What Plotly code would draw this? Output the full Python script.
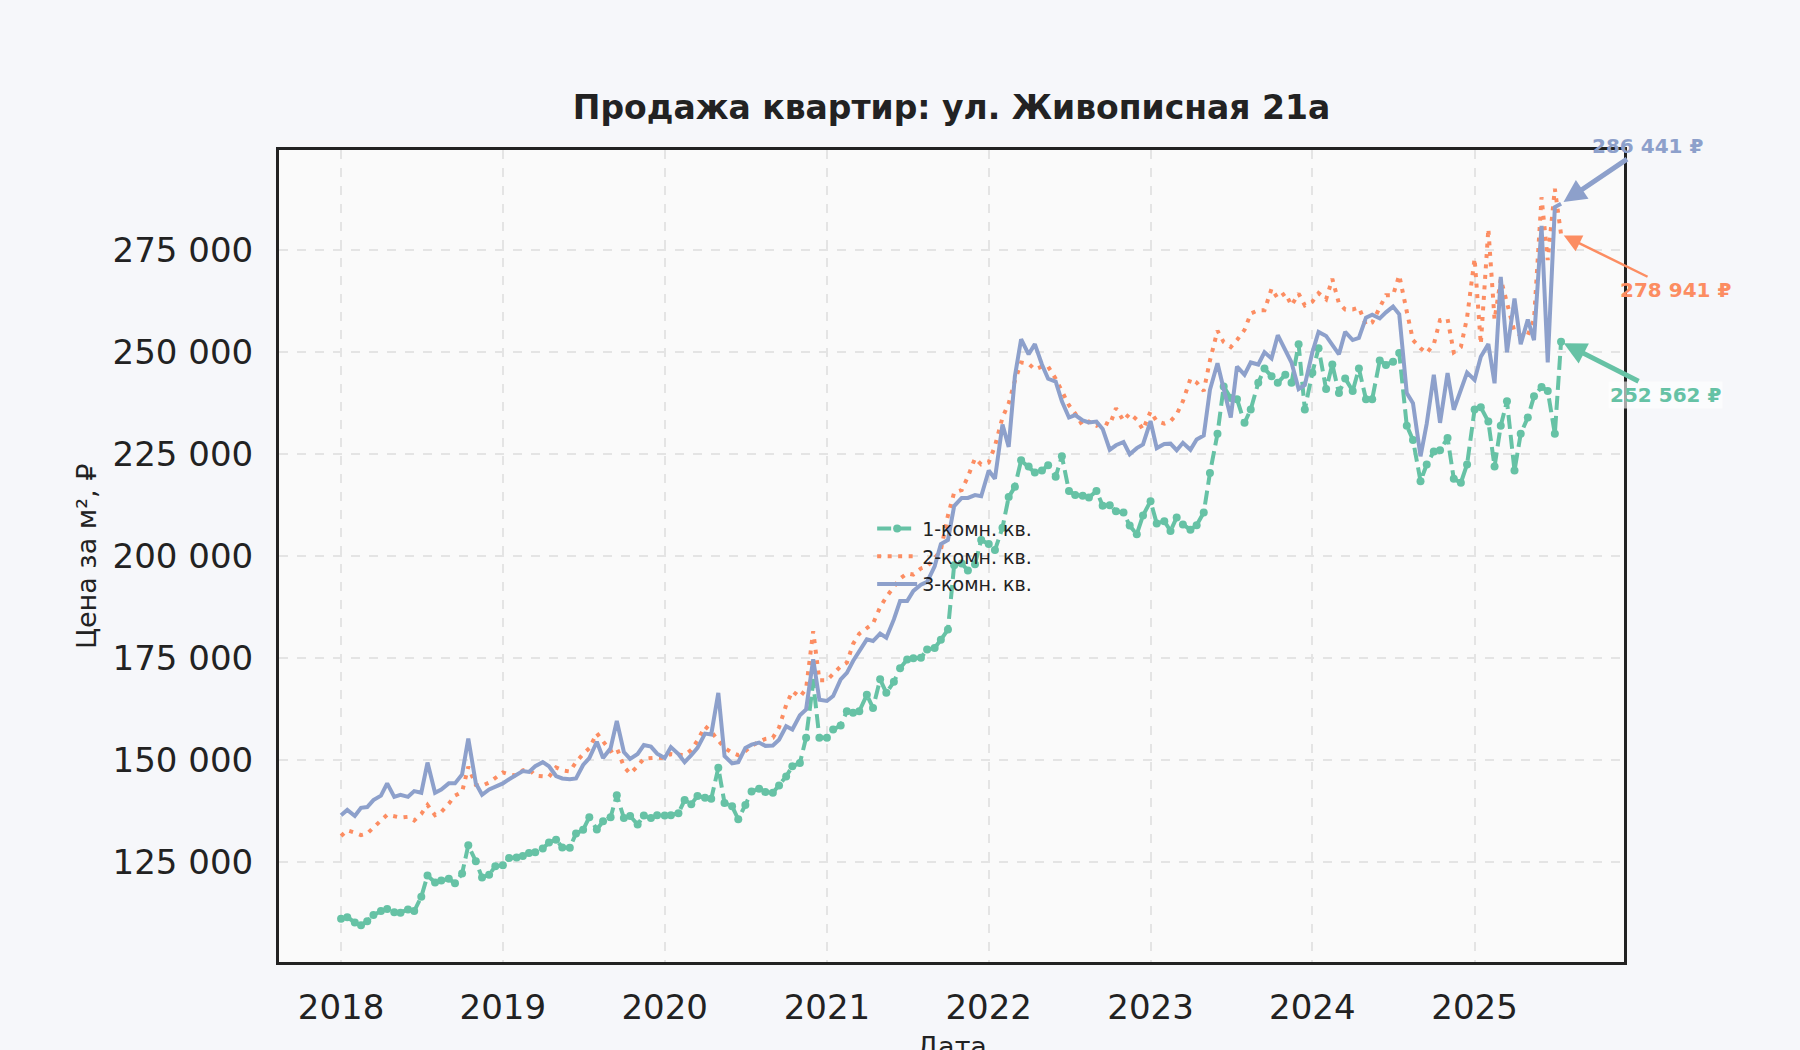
import numpy as np
import pandas as pd
import plotly.graph_objects as go

# полумесячные точки: 1-е и 15-е число
dates = pd.date_range("2018-01-01", "2025-07-15", freq="SMS")

# цена за м², тыс. руб
price_1k = [
    # 2018
    111.1, 111.5, 110.2, 109.5, 110.5, 112.0, 113.0, 113.5, 112.7, 112.6, 113.4, 113.0,
    116.5, 121.7, 120.0, 120.5, 120.9, 119.8, 122.2, 129.1, 125.2, 121.2, 121.9, 124.0,
    # 2019
    124.2, 126.0, 126.1, 126.5, 127.2, 127.4, 128.3, 129.8, 130.5, 128.6, 128.5, 132.0,
    132.9, 136.0, 133.0, 135.0, 136.0, 141.4, 135.8, 136.3, 134.2, 136.4, 135.8, 136.5,
    # 2020
    136.4, 136.5, 137.0, 140.2, 139.2, 141.2, 140.8, 140.5, 148.1, 139.5, 138.7, 135.5,
    139.0, 142.3, 143.0, 142.2, 142.0, 143.8, 146.0, 148.5, 149.3, 155.5, 169.0, 155.5,
    # 2021
    155.5, 157.5, 158.5, 162.0, 161.6, 162.0, 166.0, 162.8, 169.8, 166.5, 169.2, 172.5,
    174.7, 175.0, 175.1, 177.1, 177.5, 179.5, 182.0, 197.8, 198.2, 196.5, 198.0, 204.0,
    # 2022
    203.0, 201.5, 207.0, 214.5, 217.0, 223.5, 222.0, 220.5, 221.0, 222.3, 219.5, 224.5,
    216.0, 215.0, 214.8, 214.4, 216.0, 212.4, 212.5, 211.0, 210.7, 207.5, 205.4, 210.0,
    # 2023
    213.5, 208.0, 208.6, 206.2, 209.5, 207.8, 206.5, 207.6, 210.7, 220.4, 230.0, 241.6,
    238.8, 238.5, 232.7, 236.0, 242.5, 246.0, 244.1, 242.5, 244.5, 242.5, 252.0, 236.0,
    # 2024
    245.0, 251.0, 241.0, 247.0, 240.0, 243.6, 240.5, 246.0, 238.5, 238.5, 248.0, 246.9,
    247.7, 249.8, 232.0, 228.5, 218.4, 222.5, 225.7, 226.0, 229.0, 219.0, 218.0, 222.5,
    # 2025
    236.0, 236.5, 233.0, 222.0, 232.0, 238.0, 221.0, 230.0, 234.0, 239.2, 241.5, 240.5,
    230.0, 252.562,
]

price_2k = [
    # 2018
    131.4, 132.8, 132.2, 131.6, 132.0, 133.6, 135.2, 136.6, 136.1, 135.9, 136.1, 135.2,
    136.8, 139.0, 136.5, 137.3, 139.3, 141.3, 142.2, 148.4, 143.9, 143.7, 144.5, 145.5,
    # 2019
    147.0, 146.5, 146.2, 147.5, 147.8, 146.2, 146.1, 145.9, 148.2, 147.5, 147.2, 149.5,
    151.5, 152.9, 156.6, 154.5, 152.2, 153.0, 148.4, 146.7, 148.5, 150.4, 150.6, 150.6,
    # 2020
    150.5, 151.5, 151.3, 151.2, 152.5, 154.8, 158.3, 157.0, 154.8, 153.0, 151.8, 151.2,
    152.2, 153.5, 154.5, 155.2, 155.5, 158.0, 163.5, 166.9, 165.5, 167.5, 181.6, 169.6,
    # 2021
    169.6, 171.0, 173.0, 173.9, 178.5, 181.0, 182.5, 183.5, 187.5, 190.0, 192.5, 194.5,
    195.8, 195.5, 197.0, 197.5, 199.5, 201.5, 210.0, 215.6, 216.2, 219.5, 224.0, 222.5,
    # 2022
    223.0, 227.0, 234.0, 237.5, 243.0, 247.5, 247.2, 245.8, 246.5, 246.5, 243.5, 240.5,
    237.0, 235.0, 232.0, 233.0, 232.0, 233.0, 232.2, 236.3, 233.2, 235.0, 233.5, 231.0,
    # 2023
    235.5, 233.1, 232.5, 233.1, 234.8, 238.0, 243.5, 242.6, 240.5, 248.0, 255.3, 252.5,
    251.3, 253.0, 255.5, 259.5, 260.3, 260.3, 265.6, 263.2, 264.5, 261.5, 264.4, 261.5,
    # 2024
    262.4, 264.5, 263.0, 268.0, 262.0, 260.5, 260.5, 261.0, 256.7, 257.3, 261.0, 264.0,
    264.0, 268.9, 260.0, 253.0, 251.0, 249.8, 252.0, 257.9, 258.2, 250.0, 251.3, 258.5,
    # 2025
    273.0, 252.0, 280.3, 258.0, 268.0, 262.0, 255.0, 254.2, 254.2, 258.0, 288.0, 272.6,
    290.1, 278.941,
]

price_3k = [
    # 2018
    136.5, 137.8, 136.3, 138.3, 138.5, 140.2, 141.3, 144.3, 141.0, 141.5, 141.0, 142.4,
    142.0, 149.4, 142.0, 142.8, 144.3, 144.3, 146.5, 155.3, 144.3, 141.5, 142.8, 143.5,
    # 2019
    144.3, 145.3, 146.5, 147.3, 147.1, 148.5, 149.5, 148.5, 146.1, 145.5, 145.3, 145.5,
    148.8, 150.5, 154.5, 150.5, 152.9, 159.6, 152.0, 150.3, 151.5, 153.7, 153.3, 151.6,
    # 2020
    150.5, 153.2, 151.5, 149.5, 151.2, 153.0, 156.5, 156.3, 166.5, 151.0, 149.2, 149.5,
    153.0, 153.8, 154.3, 153.5, 153.6, 155.0, 158.3, 157.5, 161.0, 162.4, 174.7, 164.8,
    # 2021
    164.5, 165.7, 169.8, 171.4, 174.3, 176.5, 179.6, 179.2, 181.0, 180.0, 184.5, 189.0,
    189.0, 191.5, 193.0, 193.7, 197.5, 203.0, 204.0, 212.3, 214.3, 214.3, 215.0, 214.7,
    # 2022
    221.0, 219.0, 232.3, 226.8, 244.1, 253.2, 249.5, 252.0, 247.0, 243.5, 242.8, 238.0,
    234.0, 234.6, 233.3, 232.8, 233.0, 231.2, 226.1, 227.2, 228.0, 225.0, 226.5, 227.4,
    # 2023
    233.1, 226.5, 227.5, 227.6, 226.0, 227.8, 226.1, 228.6, 229.6, 240.8, 247.3, 241.0,
    234.0, 246.5, 244.5, 247.5, 247.0, 250.0, 248.5, 254.2, 250.3, 247.5, 241.0, 242.0,
    # 2024
    250.0, 255.0, 254.0, 252.0, 249.5, 255.0, 253.0, 253.5, 258.5, 259.2, 258.3, 259.8,
    261.2, 259.3, 240.0, 237.5, 224.5, 232.5, 244.5, 232.7, 244.9, 235.9, 240.5, 245.0,
    # 2025
    243.2, 248.9, 252.0, 242.4, 268.5, 250.0, 263.2, 252.0, 258.0, 253.0, 281.0, 247.5,
    285.6, 286.441,
]

names = ["1-комн. кв.", "2-комн. кв.", "3-комн. кв."]
colors = ["#66c2a5", "#fc8d62", "#8da0cb"]

series = [np.array(p) * 1000 for p in (price_1k, price_2k, price_3k)]
assert all(len(s) == len(dates) for s in series)

fig = go.Figure()

fig.add_trace(go.Scatter(
    x=dates, y=series[0], name=names[0], mode="lines+markers",
    line=dict(color=colors[0], width=4, dash="14px,6px"),
    marker=dict(size=8, color=colors[0]),
))
fig.add_trace(go.Scatter(
    x=dates, y=series[1], name=names[1], mode="lines",
    line=dict(color=colors[1], width=4, dash="4px,6.5px"),
))
fig.add_trace(go.Scatter(
    x=dates, y=series[2], name=names[2], mode="lines",
    line=dict(color=colors[2], width=4),
))

# подписи последних значений
label_offsets = [(104, 53, 5, 0.9), (114, 56, 2.5, 1.4), (86, -58, 5, 0.9)]
for s, c, (ax, ay, aw, asz) in zip(series, colors, label_offsets):
    last = s[-1]
    txt = f"{round(last):,}".replace(",", " ") + " ₽"
    fig.add_annotation(
        x=dates[-1], y=last, text=f"<b>{txt}</b>",
        ax=ax, ay=ay, showarrow=True,
        arrowhead=2, arrowsize=asz, arrowwidth=aw, arrowcolor=c, standoff=3,
        font=dict(size=20, color=c, family="DejaVu Sans"),
        bgcolor="rgba(255,255,255,0.6)" if c == colors[0] else None,
    )

fig.add_annotation(
    x=-0.1435, y=0.5, xref="paper", yref="paper", text="Цена за м², ₽",
    textangle=-90, showarrow=False, xanchor="center", yanchor="middle",
    font=dict(size=27, color="#222"),
)
fig.add_annotation(
    x=0.5, y=-0.104, xref="paper", yref="paper", text="Дата",
    showarrow=False, xanchor="center", yanchor="middle",
    font=dict(size=27, color="#222"),
)

fig.update_layout(
    width=1800, height=1050,
    margin=dict(l=279, r=176, t=150, b=88),
    paper_bgcolor="#f6f7fa",
    plot_bgcolor="#fafafa",
    font=dict(family="DejaVu Sans", color="#222"),
    separators=". ",
    title=dict(
        text="<b>Продажа квартир: ул. Живописная 21а</b>",
        x=0.5, xref="paper", y=1 - 107 / 1050, yanchor="middle",
        font=dict(size=33, color="#222"),
    ),
    legend=dict(
        x=0.441, y=0.557, xanchor="left", yanchor="top",
        bgcolor="rgba(0,0,0,0)", font=dict(size=19, color="#222"),
        itemwidth=40,
    ),
    showlegend=True,
)

fig.update_xaxes(
    type="date", range=["2017-08-14", "2025-12-04"],
    dtick="M12", tick0="2018-01-01", tickformat="%Y",
    showgrid=True, gridcolor="#e4e4e4", gridwidth=1.5, griddash="dash",
    showline=True, mirror=True, linecolor="#222", linewidth=3,
    ticks="outside", ticklen=13, tickcolor="rgba(0,0,0,0)",
    tickfont=dict(size=34, color="#222"), zeroline=False,
)
fig.update_yaxes(
    range=[100500, 299600], dtick=25000, tick0=0, tickformat=",d",
    showgrid=True, gridcolor="#e4e4e4", gridwidth=1.5, griddash="dash",
    showline=True, mirror=True, linecolor="#222", linewidth=3,
    ticks="outside", ticklen=16, tickcolor="rgba(0,0,0,0)",
    tickfont=dict(size=34, color="#222"), zeroline=False,
)

fig.write_html(
    "out.html",
    config={"displayModeBar": False},
    post_script="document.body.style.margin='0';document.body.style.overflow='hidden';",
)
